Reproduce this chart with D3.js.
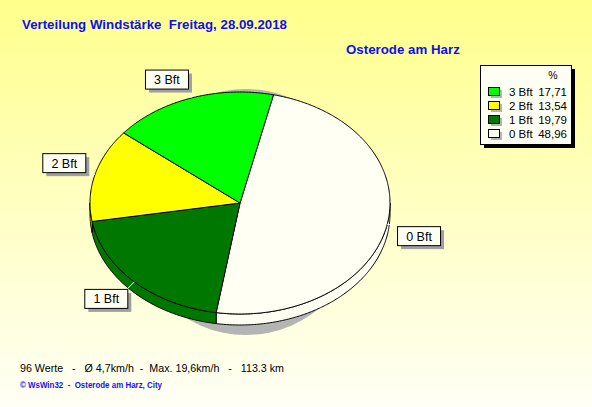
<!DOCTYPE html>
<html><head><meta charset="utf-8">
<script src="https://cdn.jsdelivr.net/npm/d3@7"></script>
<style>html,body{margin:0;padding:0;overflow:hidden;}svg{display:block;}</style>
</head><body>
<script>
// ---- data ----
const categories = ["3 Bft", "2 Bft", "1 Bft", "0 Bft"];
const percents = [17.71, 13.54, 19.79, 48.96];
const percentLabels = ["17,71", "13,54", "19,79", "48,96"];
const sliceColors = ["#00FF00", "#FFFF00", "#007800", "#FFFFF4"];
const titleText = "Verteilung Windstärke  Freitag, 28.09.2018";
const stationText = "Osterode am Harz";
const footerText = "96 Werte   -   Ø 4,7km/h  -  Max. 19,6km/h   -   113.3 km";
const creditText = "© WsWin32  -  Osterode am Harz, City";

const W = 592, H = 407;
const svg = d3.select("body").append("svg").attr("width", W).attr("height", H)
  .attr("font-family", "'Liberation Sans', Arial, sans-serif");

// background gradient
const defs = svg.append("defs");
const grad = defs.append("linearGradient").attr("id", "bg").attr("x1", 0).attr("y1", 0).attr("x2", 0).attr("y2", 1);
grad.append("stop").attr("offset", "0%").attr("stop-color", "#FFFF8C");
grad.append("stop").attr("offset", "55%").attr("stop-color", "#FFFFC8");
grad.append("stop").attr("offset", "100%").attr("stop-color", "#FFFFF6");
svg.append("rect").attr("width", W).attr("height", H).attr("fill", "url(#bg)");

// titles
svg.append("text").attr("x", 22).attr("y", 29).attr("font-size", 13.3).attr("font-weight", "bold")
  .attr("fill", "#1010EE").style("white-space", "pre")
  .attr("textLength", 265).attr("lengthAdjust", "spacingAndGlyphs").text(titleText);
svg.append("text").attr("x", 346).attr("y", 54).attr("font-size", 13.3).attr("font-weight", "bold")
  .attr("fill", "#1010EE").text(stationText);

// pie geometry
const cx = 240, cy = 203, rx = 150, ry = 111, depth = 11;
const startOffset = 12.9 * Math.PI / 180;
const order = [3, 2, 1, 0]; // 0 Bft first clockwise
const pieData = order.map(i => ({ cat: categories[i], value: percents[i], color: sliceColors[i] }));
const pie = d3.pie().sort(null).value(d => d.value)
  .startAngle(startOffset).endAngle(startOffset + 2 * Math.PI);
const arcs = pie(pieData);

const px = (a, k = 1) => cx + rx * k * Math.sin(a);
const py = (a, k = 1) => cy - ry * k * Math.cos(a);
function arcPts(a0, a1, dy = 0) {
  const n = Math.max(2, Math.ceil(Math.abs(a1 - a0) / 0.01));
  return d3.range(n + 1).map(j => {
    const a = a0 + (a1 - a0) * j / n;
    return [px(a), py(a) + dy];
  });
}
const line = d3.line();

// shadow
svg.append("ellipse").attr("cx", cx + 6).attr("cy", cy + 9).attr("rx", 118).attr("ry", 123)
  .attr("fill", "#B4B4B4");

// sides (front half)
const sideG = svg.append("g");
arcs.forEach(d => {
  for (let k = -1; k <= 2; k++) {
    const lo = Math.PI / 2 + 2 * Math.PI * k, hi = 3 * Math.PI / 2 + 2 * Math.PI * k;
    const a0 = Math.max(d.startAngle, lo), a1 = Math.min(d.endAngle, hi);
    if (a1 > a0) {
      const top = arcPts(a0, a1, 0);
      const bot = arcPts(a1, a0, depth);
      sideG.append("path").attr("d", line(top.concat(bot)) + "Z")
        .attr("fill", d.data.color).attr("stroke", "#000").attr("stroke-width", 1);
    }
  }
});

// top faces
const topG = svg.append("g");
arcs.forEach(d => {
  const pts = [[cx, cy]].concat(arcPts(d.startAngle, d.endAngle, 0));
  topG.append("path").attr("d", line(pts) + "Z")
    .attr("fill", d.data.color).attr("stroke", "#000").attr("stroke-width", 1).attr("stroke-linejoin", "round");
});

// labels
const bw = 43, bh = 19;
const labG = svg.append("g");
arcs.forEach(d => {
  const m = (d.startAngle + d.endAngle) / 2;
  const ax = cx + (rx + 10) * Math.sin(m), ay = cy - (ry + 10) * Math.cos(m);
  labG.append("line").attr("x1", px(m)).attr("y1", py(m)).attr("x2", ax).attr("y2", ay)
    .attr("stroke", "#FFFFFF").attr("stroke-width", 1);
  const bx = Math.sin(m) >= 0 ? ax : ax - bw;
  const by = -Math.cos(m) >= 0 ? ay : ay - bh;
  labG.append("rect").attr("x", bx + 4).attr("y", by + 4).attr("width", bw).attr("height", bh).attr("fill", "#A0A0A0");
  labG.append("rect").attr("x", bx + 0.5).attr("y", by + 0.5).attr("width", bw).attr("height", bh)
    .attr("fill", "#FFFFF4").attr("stroke", "#000").attr("stroke-width", 1);
  labG.append("text").attr("x", bx + bw / 2 + 0.5).attr("y", by + bh / 2 + 5)
    .attr("text-anchor", "middle").attr("font-size", 12.5).attr("fill", "#000").text(d.data.cat);
});

// legend
const lx = 480, ly = 65, lw = 91, lh = 79;
const lg = svg.append("g");
lg.append("rect").attr("x", lx + 4).attr("y", ly + 4).attr("width", lw).attr("height", lh).attr("fill", "#000");
lg.append("rect").attr("x", lx + 0.5).attr("y", ly + 0.5).attr("width", lw).attr("height", lh)
  .attr("fill", "#FFFFF4").attr("stroke", "#000");
lg.append("text").attr("x", lx + 73).attr("y", ly + 14).attr("text-anchor", "middle")
  .attr("font-size", 10.5).text("%");
const rowY = d3.scaleLinear().domain([0, 1]).range([ly + 26, ly + 40]);
categories.forEach((c, i) => {
  const y = rowY(i);
  lg.append("rect").attr("x", lx + 11).attr("y", y - 1).attr("width", 11).attr("height", 8).attr("fill", "#B4B4B4");
  lg.append("rect").attr("x", lx + 8.5).attr("y", y - 3.5).attr("width", 11).attr("height", 8)
    .attr("fill", sliceColors[i]).attr("stroke", "#000");
  lg.append("text").attr("x", lx + 29).attr("y", y + 4.5).attr("font-size", 11.5).text(c);
  lg.append("text").attr("x", lx + 87).attr("y", y + 4.5).attr("text-anchor", "end").attr("font-size", 11.5).text(percentLabels[i]);
});

// footer
svg.append("text").attr("x", 20).attr("y", 372).attr("font-size", 11).attr("fill", "#000")
  .style("white-space", "pre").attr("textLength", 264).attr("lengthAdjust", "spacingAndGlyphs").text(footerText);
svg.append("text").attr("x", 20).attr("y", 388).attr("font-size", 8.5).attr("font-weight", "bold")
  .attr("fill", "#1414E6").style("white-space", "pre").attr("textLength", 142).attr("lengthAdjust", "spacingAndGlyphs").text(creditText);
</script>
</body></html>
